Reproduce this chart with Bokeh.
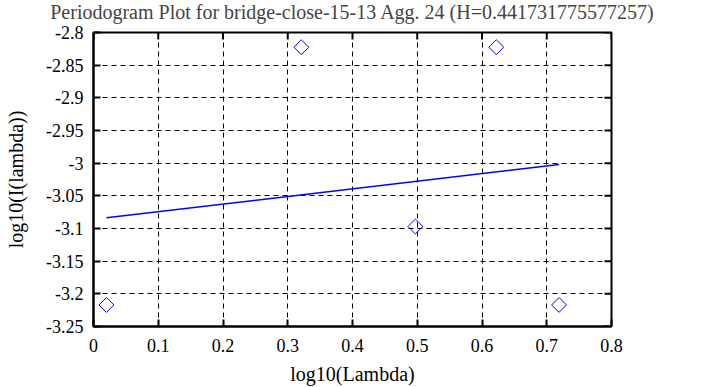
import numpy as np
from bokeh.plotting import figure
from bokeh.models import FixedTicker, Range1d
from bokeh.embed import file_html
from bokeh.resources import INLINE

# data
log_lambda = [0.0200, 0.3210, 0.4971, 0.6221, 0.7190]
log_I = [-3.217, -2.8225, -3.097, -2.8225, -3.217]
x_ticks = [0, 0.1, 0.2, 0.3, 0.4, 0.5, 0.6, 0.7, 0.8]
x_tick_labels = ["0", "0.1", "0.2", "0.3", "0.4", "0.5", "0.6", "0.7", "0.8"]
y_ticks = [-2.8, -2.85, -2.9, -2.95, -3.0, -3.05, -3.1, -3.15, -3.2, -3.25]
y_tick_labels = ["-2.8", "-2.85", "-2.9", "-2.95", "-3", "-3.05", "-3.1", "-3.15", "-3.2", "-3.25"]
title_text = "Periodogram Plot for bridge-close-15-13 Agg. 24 (H=0.441731775577257)"

FONT = "'Liberation Serif', 'Times New Roman', serif"
X0, X1 = 0, 0.8
Y0, Y1 = -3.25, -2.8

slope, intercept = np.polyfit(log_lambda, log_I, 1)
fit_x = [min(log_lambda), max(log_lambda)]
fit_y = [slope * v + intercept for v in fit_x]

p = figure(width=705, height=387, output_backend="svg", toolbar_location=None,
           x_range=Range1d(X0, X1), y_range=Range1d(Y0, Y1),
           min_border_left=93, min_border_right=94, min_border_top=31, min_border_bottom=56)

p.title.text = title_text
p.title.text_font = FONT
p.title.text_font_size = "20px"
p.title.text_font_style = "normal"
p.title.text_line_height = 1.0
p.title.align = "center"
p.title.vertical_align = "top"
p.title.standoff = 0
p.title.offset = 0
p.title.padding = dict(left=0, right=0, top=0, bottom=8)

p.outline_line_color = "black"
p.outline_line_width = 2
p.outline_line_alpha = 1

for ax in p.xaxis + p.yaxis:
    ax.major_label_text_font = FONT
    ax.major_label_text_font_size = "18px"
    ax.major_label_text_color = "black"
    ax.axis_label_text_font = FONT
    ax.axis_label_text_font_size = "20px"
    ax.axis_label_text_font_style = "normal"
    ax.axis_label_text_color = "black"
    ax.major_tick_in = 7
    ax.major_tick_out = 0
    ax.major_tick_line_width = 2
    ax.minor_tick_line_color = None
    ax.axis_line_width = 2

p.xaxis.ticker = FixedTicker(ticks=x_ticks)
p.xaxis.major_label_overrides = dict(zip(x_ticks, x_tick_labels))
p.yaxis.ticker = FixedTicker(ticks=y_ticks)
p.yaxis.major_label_overrides = dict(zip(y_ticks, y_tick_labels))
p.xaxis.axis_label = "log10(Lambda)"
p.yaxis.axis_label = "log10(I(lambda))"
p.xaxis.major_label_standoff = 12
p.xaxis.axis_label_standoff = 8
p.yaxis.major_label_standoff = 10
p.yaxis.axis_label_standoff = 16

for g in (p.xgrid, p.ygrid):
    g.grid_line_color = "black"
    g.grid_line_alpha = 1
    g.grid_line_width = 1
    g.grid_line_dash = "5 4"
p.xgrid.ticker = FixedTicker(ticks=x_ticks)
p.ygrid.ticker = FixedTicker(ticks=y_ticks)

# mirror ticks on top and right
p.ray(x=x_ticks, y=[Y1] * len(x_ticks), length=7, length_units="screen",
      angle=-np.pi / 2, line_color="black", line_width=2)
p.ray(x=[X1] * len(y_ticks), y=y_ticks, length=7, length_units="screen",
      angle=np.pi, line_color="black", line_width=2)

p.line(fit_x, fit_y, line_color="#0000ff", line_width=1.5)
p.scatter(log_lambda, log_I, marker="square", size=10.5, angle=np.pi / 4,
          fill_color=None, line_color="#0000ff", line_width=1)

open("out.html", "w").write(file_html(p, INLINE))
